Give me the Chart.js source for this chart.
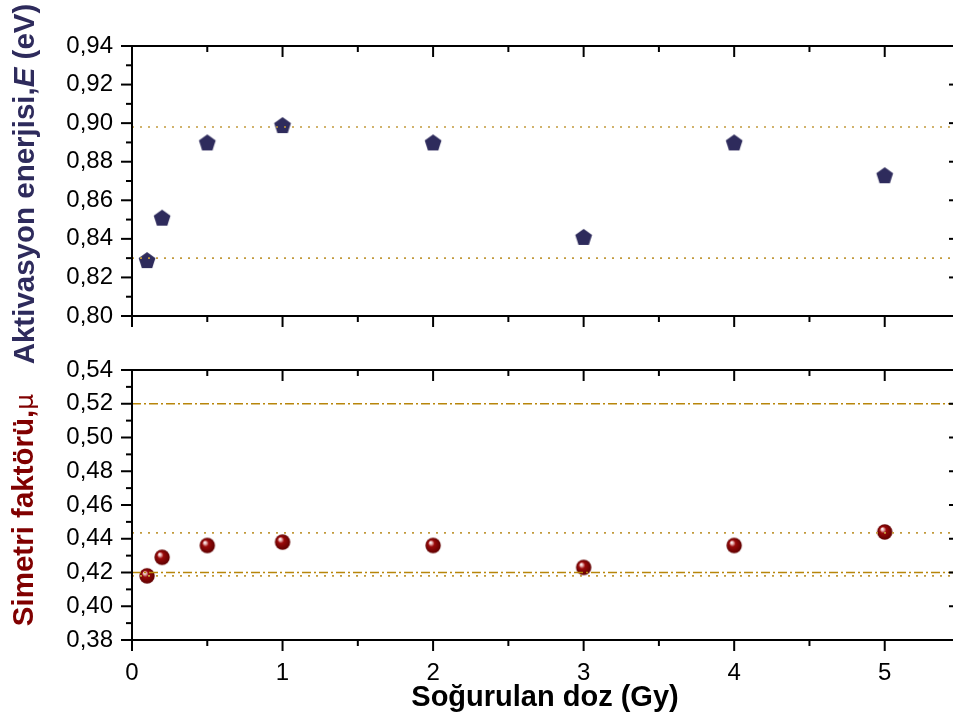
<!DOCTYPE html>
<html>
<head>
<meta charset="utf-8">
<script src="https://cdn.jsdelivr.net/npm/chart.js@4/dist/chart.umd.min.js"></script>
<style>
  html, body { margin: 0; padding: 0; background: #fff; overflow: hidden; width: 953px; height: 722px; }
  #wrap { position: relative; width: 953px; height: 722px; overflow: hidden; }
  #wrap canvas { position: absolute; left: 0; top: 0; }
</style>
</head>
<body>
<div id="wrap">
  <canvas id="topCanvas" width="980" height="722"></canvas>
  <canvas id="bottomCanvas" width="980" height="722"></canvas>
</div>
<script>
// data
const doses = [0.1, 0.2, 0.5, 1, 2, 3, 4, 5];
const energy = [0.829, 0.851, 0.890, 0.899, 0.890, 0.841, 0.890, 0.873];
const symmetry = [0.418, 0.429, 0.436, 0.438, 0.436, 0.423, 0.436, 0.444];

// horizontal reference lines
const energyDotted = [0.898, 0.830];
const symDotted = [0.4435, 0.418];
const symDashDot = [0.52, 0.42];

const xRange = [0, 5.5];
const xTicks = [0, 1, 2, 3, 4, 5];
const energyRange = [0.80, 0.94];
const symRange = [0.38, 0.54];

const navy = '#2e2b5c';
const darkRed = '#800000';
const dotColor = '#c29a3c';
const dashDotColor = '#b8860b';

// marker images
const makePentagon = () => {
    let c = document.createElement('canvas');
    c.width = 20; c.height = 20;
    let g = c.getContext('2d');
    g.beginPath();
    for (let k = 0; k < 5; k++) {
        let a = -Math.PI / 2 + k * 2 * Math.PI / 5;
        let px = 10 + 8.8 * Math.cos(a), py = 10.8 + 8.8 * Math.sin(a);
        if (k == 0) g.moveTo(px, py); else g.lineTo(px, py);
    }
    g.closePath();
    g.fillStyle = navy;
    g.fill();
    return c;
}
const makeSphere = () => {
    let c = document.createElement('canvas');
    c.width = 18; c.height = 18;
    let g = c.getContext('2d');
    let grad = g.createRadialGradient(6.3, 5.8, 0.3, 9, 9, 8);
    grad.addColorStop(0, '#ffffff');
    grad.addColorStop(0.16, '#e9b4b4');
    grad.addColorStop(0.38, '#9a0a0a');
    grad.addColorStop(1, '#5c0000');
    g.beginPath();
    g.arc(9, 9, 7.7, 0, Math.PI * 2);
    g.fillStyle = grad;
    g.fill();
    return c;
}

const toPoints = (xs, ys) => xs.map((x, i) => ({x: x, y: ys[i]}));
const hLine = (v, color, dash) => ({
    type: 'line',
    data: [{x: xRange[0], y: v}, {x: xRange[1], y: v}],
    borderColor: color,
    borderWidth: 1.6,
    borderDash: dash,
    pointRadius: 0,
    fill: false,
    order: 0
});

const fmt = (v) => Number(v).toFixed(2).replace('.', ',');

// box frame + major/minor ticks, drawn from the scales
const frameTicks = {
    id: 'frameTicks',
    afterDraw(chart) {
        const ctx = chart.ctx, a = chart.chartArea;
        const xs = chart.scales.x, ys = chart.scales.y;
        ctx.save();
        ctx.strokeStyle = '#000';
        ctx.lineWidth = 2;
        const seg = (x1, y1, x2, y2) => { ctx.beginPath(); ctx.moveTo(x1, y1); ctx.lineTo(x2, y2); ctx.stroke(); };
        ctx.strokeRect(a.left, a.top, a.right - a.left, a.bottom - a.top);
        let nx = Math.round((xs.max - xs.min) / 0.5);
        for (let i = 0; i <= nx; i++) {
            let px = xs.getPixelForValue(xs.min + i * 0.5);
            let len = (i % 2 == 0) ? 11 : 6;
            seg(px, a.bottom, px, a.bottom + len);
            seg(px, a.top, px, a.top + len);
        }
        let ny = Math.round((ys.max - ys.min) / 0.01);
        for (let j = 0; j <= ny; j++) {
            let py = ys.getPixelForValue(ys.min + j * 0.01);
            let len = (j % 2 == 0) ? 11 : 6;
            seg(a.left - len, py, a.left, py);
            seg(a.right - len, py, a.right, py);
        }
        ctx.restore();
    }
};

// axis titles with mixed fonts
const axisTitles = {
    id: 'axisTitles',
    afterDraw(chart, args, opts) {
        const ctx = chart.ctx, a = chart.chartArea;
        ctx.save();
        if (opts.yParts) {
            let total = 0;
            opts.yParts.forEach(p => { ctx.font = p.font; total += ctx.measureText(p.text).width; });
            ctx.translate(opts.yX, (a.top + a.bottom) / 2 + (opts.yShift || 0));
            ctx.rotate(-Math.PI / 2);
            ctx.textBaseline = 'alphabetic';
            ctx.textAlign = 'left';
            let pos = -total / 2;
            opts.yParts.forEach(p => {
                ctx.font = p.font;
                ctx.fillStyle = p.color;
                ctx.fillText(p.text, pos, 0);
                pos += ctx.measureText(p.text).width;
            });
            ctx.setTransform(1, 0, 0, 1, 0, 0);
        }
        if (opts.xText) {
            ctx.font = 'bold 29px "Liberation Sans", Arial, sans-serif';
            ctx.fillStyle = '#000';
            ctx.textAlign = 'center';
            ctx.textBaseline = 'alphabetic';
            ctx.fillText(opts.xText, 545, opts.xY);
        }
        ctx.restore();
    }
};

const tickFont = {family: '"Liberation Sans", Arial, sans-serif', size: 24};

const baseOptions = (yr, padTop, padBottom, showX) => ({
    responsive: false,
    animation: false,
    events: [],
    layout: {padding: {top: padTop, left: 0, right: 20, bottom: padBottom}},
    scales: {
        x: {
            type: 'linear',
            min: xRange[0], max: xRange[1],
            display: showX,
            afterBuildTicks: (s) => { s.ticks = xTicks.map(v => ({value: v})); },
            afterFit: (s) => { s.height = showX ? 40 : 0; },
            grid: {display: false, drawTicks: false},
            border: {display: false},
            ticks: {font: tickFont, color: '#000', padding: 19, maxRotation: 0,
                    callback: (v) => String(v)}
        },
        y: {
            type: 'linear',
            min: yr[0], max: yr[1],
            afterFit: (s) => { s.width = 132; },
            grid: {display: false, drawTicks: false},
            border: {display: false},
            ticks: {font: tickFont, color: '#000', padding: 19, stepSize: 0.02,
                    callback: (v) => fmt(v)}
        }
    },
    plugins: {legend: {display: false}, tooltip: {enabled: false}}
});

// upper panel: activation energy
let topOpts = baseOptions(energyRange, 46, 406, false);
topOpts.plugins.axisTitles = {
    yX: 34, yShift: 3,
    yParts: [
        {text: 'Aktivasyon enerjisi,', font: 'bold 29.5px "Liberation Sans", Arial, sans-serif', color: navy},
        {text: 'E', font: 'italic bold 29.5px "Liberation Sans", Arial, sans-serif', color: navy},
        {text: ' (eV)', font: 'bold 29.5px "Liberation Sans", Arial, sans-serif', color: navy}
    ]
};
new Chart(document.getElementById('topCanvas'), {
    type: 'scatter',
    data: {
        datasets: [
            hLine(energyDotted[0], dotColor, [2, 6]),
            hLine(energyDotted[1], dotColor, [2, 6]),
            {
                type: 'scatter',
                data: toPoints(doses, energy),
                pointStyle: makePentagon(),
                order: 1
            }
        ]
    },
    options: topOpts,
    plugins: [frameTicks, axisTitles]
});

// lower panel: symmetry factor
let botOpts = baseOptions(symRange, 370, 42, true);
botOpts.plugins.axisTitles = {
    yX: 33, yShift: 5,
    yParts: [
        {text: 'Simetri faktörü,', font: 'bold 29.5px "Liberation Sans", Arial, sans-serif', color: darkRed},
        {text: 'μ', font: '25px "DejaVu Sans", sans-serif', color: darkRed}
    ],
    xText: 'Soğurulan doz (Gy)',
    xY: 706
};
new Chart(document.getElementById('bottomCanvas'), {
    type: 'scatter',
    data: {
        datasets: [
            hLine(symDotted[0], dotColor, [2, 6]),
            hLine(symDotted[1], dotColor, [2, 6]),
            hLine(symDashDot[0], dashDotColor, [9, 3, 2, 3]),
            hLine(symDashDot[1], dashDotColor, [9, 3, 2, 3]),
            {
                type: 'scatter',
                data: toPoints(doses, symmetry),
                pointStyle: makeSphere(),
                order: 1
            }
        ]
    },
    options: botOpts,
    plugins: [frameTicks, axisTitles]
});
</script>
</body>
</html>
